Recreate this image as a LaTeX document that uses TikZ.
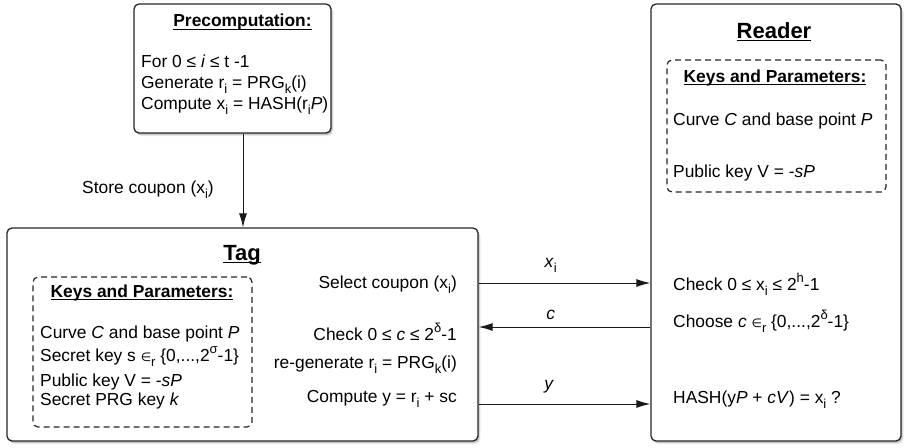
\documentclass[tikz,border=0pt]{standalone}
\usepackage{fontspec}
\setmainfont{Liberation Sans}
\newfontfamily\symfont{DejaVu Sans}
\usetikzlibrary{arrows.meta,shadows}

% lowered / raised small text for indices and exponents
\newcommand\lowtx[1]{\raisebox{-5pt}{\fontsize{13}{13}\selectfont #1}}
\newcommand\hightx[1]{\raisebox{8pt}{\fontsize{13}{13}\selectfont #1}}
% "element of, chosen at random"
\newcommand\elemr{{\symfont\fontsize{12}{12}\selectfont ∈}\lowtx{r}}
% underline sitting just below the baseline
\newcommand\undl[1]{\setbox0\hbox{#1}\rlap{\rule[-2.8pt]{\wd0}{1.3pt}}\box0}

\tikzset{
  every node/.style={font=\fontsize{17.4}{21}\selectfont, inner sep=0pt, text=black},
  box/.style={draw=black!85, line width=1.3pt, rounded corners=5pt, fill=white,
    drop shadow={shadow xshift=2.5pt, shadow yshift=-3pt, opacity=0.15},
    drop shadow={shadow xshift=1.5pt, shadow yshift=-2pt, opacity=0.35}},
  keybox/.style={draw=black!85, line width=1.2pt, dash pattern=on 6pt off 4pt, rounded corners=5pt},
  bigtitle/.style={font=\bfseries\fontsize{22}{26}\selectfont, anchor=base},
  subtitle/.style={font=\bfseries\fontsize{17.4}{21}\selectfont, anchor=base},
  lt/.style={anchor=base west},
  rt/.style={anchor=base east},
  ct/.style={anchor=base},
  arr/.style={line width=1pt, draw=black!90, -{Latex[length=14pt,width=8pt]}}
}

\begin{document}
\begin{tikzpicture}[x=1pt, y=-1pt]
\useasboundingbox (0,0) rectangle (904,447);

% the three parties
\node[box, minimum width=197pt, minimum height=129pt] (pre) at (232.5,68.5) {};
\node[box, minimum width=471pt, minimum height=213pt] (tag) at (242.5,334.5) {};
\node[box, minimum width=250pt, minimum height=437pt] (reader) at (776,222.5) {};

% dashed parameter panels
\node[keybox, minimum width=219pt, minimum height=150pt] (tagkeybox) at (142.5,352) {};
\node[keybox, minimum width=219pt, minimum height=132pt] (readkeybox) at (776.5,126) {};

% precomputation
\node[subtitle] (pretitle) at (242.5,27) {\undl{Precomputation:}};
\node[lt] (pre1) at (141,67) {For 0 ≤ \textit{i} ≤ t -1};
\node[lt] (pre2) at (141,88) {Generate r\lowtx{i} = PRG\lowtx{k}(i)};
\node[lt] (pre3) at (141,109) {Compute x\lowtx{i} = HASH(r\lowtx{i}\textit{P})};

\node[ct] (store) at (148,193) {Store coupon (x\lowtx{i})};

% tag
\node[bigtitle] (tagtitle) at (242,260) {\undl{Tag}};
\node[subtitle] (tagkeys) at (142,297) {\undl{Keys and Parameters:}};
\node[lt] (tk1) at (40,338) {Curve \textit{C} and base point \textit{P}};
\node[lt] (tk2) at (40,361) {Secret key s \elemr{} \{0,...,2\hightx{σ}-1\}};
\node[lt] (tk3) at (40,386) {Public key V = -\textit{sP}};
\node[lt] (tk4) at (40,405) {Secret PRG key \textit{k}};

\node[rt] (ts1) at (457,288) {Select coupon (x\lowtx{i})};
\node[rt] (ts2) at (457,340) {Check 0 ≤ \textit{c} ≤ 2\hightx{δ}-1};
\node[rt] (ts3) at (457,368) {re-generate r\lowtx{i} = PRG\lowtx{k}(i)};
\node[rt] (ts4) at (457,402) {Compute y = r\lowtx{i} + sc};

% reader
\node[bigtitle] (readtitle) at (774,38) {\undl{Reader}};
\node[subtitle] (readkeys) at (775,82) {\undl{Keys and Parameters:}};
\node[lt] (rk1) at (673,125) {Curve \textit{C} and base point \textit{P}};
\node[lt] (rk2) at (673,177) {Public key V = -\textit{sP}};

\node[lt] (rs1) at (673,290) {Check 0 ≤ x\lowtx{i} ≤ 2\hightx{h}-1};
\node[lt] (rs2) at (673,327) {Choose \textit{c} \elemr{} \{0,...,2\hightx{δ}-1\}};
\node[lt] (rs3) at (673,403) {HASH(y\textit{P} + \textit{cV}) = x\lowtx{i} ?};

% messages
\draw[arr] (pre.south -| 243,0) -- (tag.north -| 243,0);
\draw[arr] (tag.east |- 0,283) -- node[ct, pos=0.42, yshift=16pt] (mx) {\textit{x}\lowtx{i}} (reader.west |- 0,283);
\draw[arr] (reader.west |- 0,327) -- node[ct, pos=0.58, yshift=8pt] (mc) {\textit{c}} (tag.east |- 0,327);
\draw[arr] (tag.east |- 0,404) -- node[ct, pos=0.41, yshift=15pt] (my) {\textit{y}} (reader.west |- 0,404);
\end{tikzpicture}
\end{document}
